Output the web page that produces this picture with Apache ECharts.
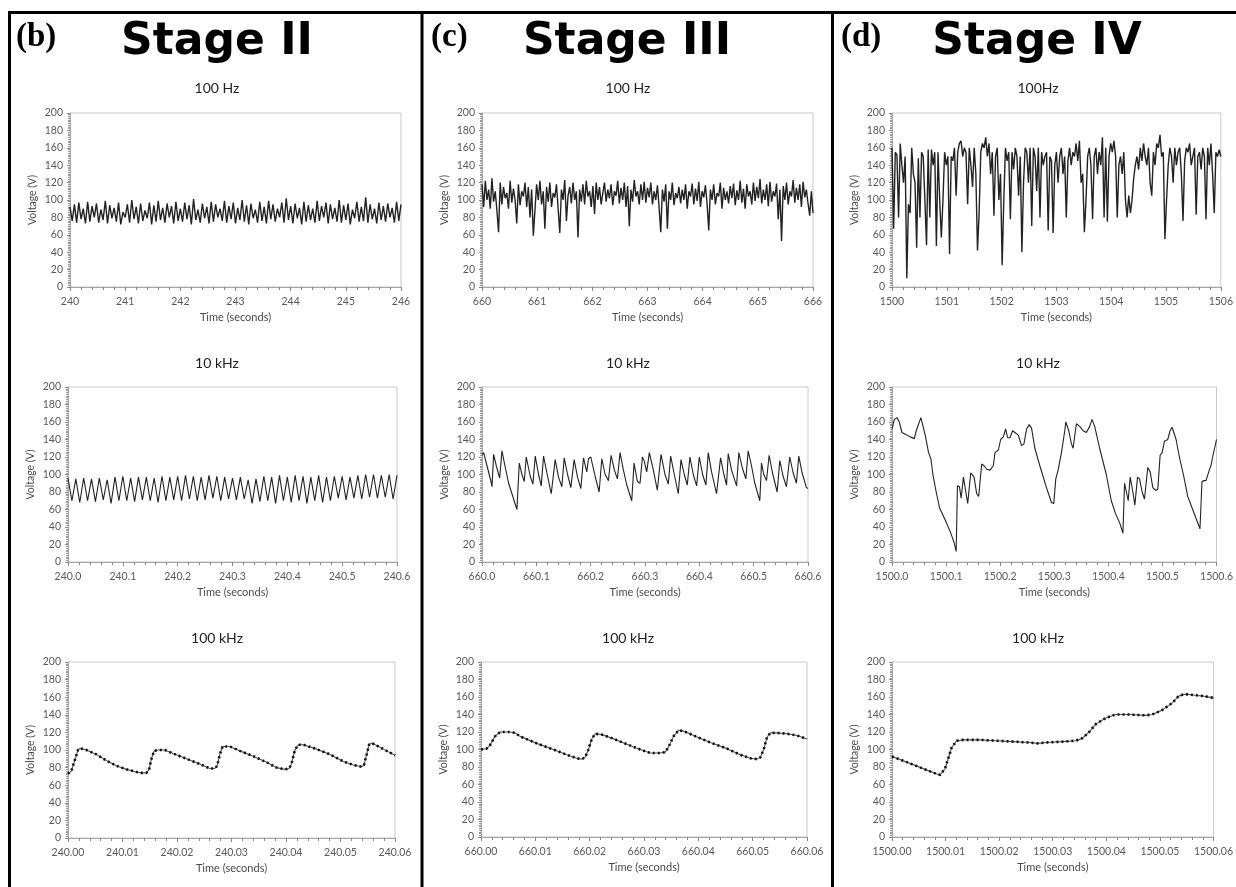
<!DOCTYPE html>
<html>
<head>
<meta charset="utf-8">
<script src="https://cdn.jsdelivr.net/npm/echarts@6/dist/echarts.min.js"></script>
<style>
  html, body { margin: 0; padding: 0; background: #fff; }
  #main { width: 1236px; height: 887px; }
</style>
</head>
<body>
<div id="main"></div>
<script>
// ---- data ----
// 100 Hz rows: evenly sampled voltages over the 6 s window
var b100Hz = [92,76,95,74,97,78,90,73,98,75,93,80,96,74,89,77,99,73,94,79,91,75,97,72,86,80,95,74,100,78,
  92,73,96,76,88,79,97,72,94,75,99,77,91,74,96,80,93,73,98,76,90,75,97,78,94,72,101,77,89,74,
  96,79,92,73,98,75,95,80,90,76,99,74,93,78,97,73,91,77,100,75,94,72,96,79,89,74,98,76,92,73,
  99,78,95,75,90,80,97,74,102,77,93,73,96,79,91,72,98,75,94,77,90,74,99,76,93,80,97,73,95,78,
  91,75,100,74,94,77,96,72,89,79,98,75,92,76,103,74,95,78,90,73,97,77,93,75,96,80,91,74,98,76,95];
var c100Hz = [118,92,122,100,112,90,125,98,110,88, 63,120,95,115,102,108,90,122,97,113,
  100,73,118,94,110,104,120,92,115,80, 112,59,59,118,100,122,95,110,67,115,
  98,120,92,108,103,118,90,62,112,100, 123,76,105,115,96,120,100,110,57,112,
  98,118,95,122,104,110,92,116,84,120, 100,115,95,108,120,98,112,102,118,94,
  110,105,122,96,114,100,120,92,116,70, 112,98,123,104,110,95,118,100,121,97,
  114,103,120,95,110,100,117,92,63,112, 98,118,67,110,100,120,94,108,102,115,
  96,112,100,118,90,110,104,119,95,113, 99,121,92,110,103,117,96,65,112,100,
  118,95,108,104,120,90,114,100,110,96, 116,102,119,94,111,100,122,97,113,90,
  118,104,110,95,120,99,115,102,124,96, 112,100,118,93,121,98,110,104,119,78,
  112,53,116,100,120,95,110,104,123,97, 114,100,118,92,121,103,112,96,82,110, 85];
var d100Hz = [160,67,155,152,80,165,140,120,150,10, 95,85,160,130,120,45,148,80,155,150,
  100,48,158,80,158,140,155,47,155,100, 57,100,155,140,150,38,150,145,160,105,
  155,165,168,150,160,155,95,160,140,115, 160,130,42,85,155,165,160,172,150,165,
  130,155,82,150,160,100,130,25,100,160, 145,155,78,155,135,160,150,105,150,40,
  120,160,155,120,160,70,160,150,110,160, 80,155,140,150,155,65,150,145,62,140,
  155,120,150,160,130,150,80,145,160,140, 155,150,165,145,168,120,130,63,100,150,
  160,140,78,150,160,130,155,140,172,80, 160,75,150,165,155,168,150,80,140,150,
  130,155,100,80,105,85,100,125,140,150, 135,160,145,165,150,140,160,120,105,155,
  140,165,160,175,150,155,55,100,140,160, 150,120,160,140,155,160,130,76,145,160,
  155,165,140,150,160,83,150,155,135,160, 150,78,160,140,165,130,85,155,150,158, 150];

// 10 kHz, Stage II: alternating peaks and troughs, evenly spaced over 0.6 s
var b10k = [96,70,95,68,96,70,95,69,96,71,94,67,97,70,98,70,96,69,97,71,97,70,96,68,98,70,97,71,98,70,
  99,72,98,70,97,71,99,73,98,70,97,72,96,71,97,72,94,67,95,69,98,70,97,67,99,70,97,68,99,70,
  98,67,97,70,99,68,97,70,98,73,98,71,97,73,99,72,100,74,100,73,99,74,100,72,99];

// 10 kHz, Stage III / IV: time offset (ms from window start) and voltage
var c10kMs = [0,3.1,9.2,16.5,18.4,21.4,26.3,32.5,36.7,42.9,49.0,55.1,64.3,68.6,73.5,77.8,81.4,88.8,93.7,98.0,
  104.1,109.0,113.3,119.4,127.4,134.7,140.8,147.0,151.3,157.4,163.5,169.6,175.8,181.9,186.8,192.9,196.0,200.2,
  208.2,215.6,220.5,226.6,232.7,237.6,243.7,249.2,254.1,260.3,266.4,275.6,279.8,286.0,290.9,295.2,298.8,303.1,
  308.0,315.4,322.7,329.5,336.8,342.9,347.2,353.3,361.3,366.2,372.3,377.8,382.7,388.9,395.0,399.9,406.0,412.1,
  416.4,422.5,431.7,439.1,445.2,450.1,453.2,459.3,468.5,472.7,478.9,485.6,489.9,496.0,502.1,511.3,514.4,518.7,
  523.6,528.5,534.6,543.2,548.1,554.2,560.3,566.4,572.6,578.7,583.0,589.1,597.1,600];
var c10kV = [122,125,110,92,86,123,110,96,127,108,90,78,60,113,100,92,120,98,89,121,
  100,87,121,102,78,117,97,86,119,100,85,117,97,84,119,103,118,120,
  98,80,118,100,93,122,105,95,125,105,88,70,113,92,90,120,115,103,
  125,105,82,123,100,89,121,102,78,117,100,88,120,100,87,120,100,88,
  125,103,78,119,100,88,124,105,87,125,108,95,127,110,90,70,113,100,
  93,122,102,80,116,98,86,120,102,90,121,102,85,84];
var d10kMs = [0,4.3,9.2,13.5,18.4,24.6,33.8,41.2,44.8,53.4,61.4,67.6,71.9,75.6,81.7,87.8,98.3,107.5,114.9,118.6,
  121.0,124.7,127.8,132.1,137.0,140.0,145.6,151.7,156.6,160.3,165.8,170.1,175.1,181.2,187.3,190.4,196.6,200.9,
  205.8,210.1,213.8,218.1,223.0,227.3,233.4,239.6,243.9,248.8,253.7,258.0,264.1,273.3,285.6,294.8,299.1,302.8,
  307.1,313.3,319.4,321.3,326.8,331.7,334.8,340.9,347.1,353.2,359.3,365.5,369.8,374.7,383.9,396.2,405.4,413.4,
  420.8,426.9,430.0,433.0,436.7,440.4,445.3,449.0,453.9,457.6,462.5,466.8,472.9,477.3,482.2,487.1,491.4,495.7,
  499.4,503.7,509.8,514.1,517.8,520.3,525.2,531.3,538.7,546.7,555.9,562.0,569.4,571.3,573.1,576.8,580.5,586.6,
  589.7,592.8,600];
var d10kV = [152,163,165,160,148,146,143,141,150,165,145,125,118,100,80,62,48,35,22,12,
  87,86,73,97,78,67,102,97,78,75,112,110,106,105,110,125,128,140,
  143,152,142,142,150,148,145,133,135,152,157,153,130,110,85,68,67,95,
  105,125,150,160,150,135,130,158,155,150,148,155,163,155,130,100,70,55,
  45,33,90,88,70,97,80,65,97,95,80,72,108,103,85,82,83,122,
  125,138,140,150,154,152,140,120,100,75,60,50,38,40,92,93,93,105,
  110,120,140];

// 100 kHz: time offset (ms from window start) and voltage
var b100kMs = [0,0.61,1.22,1.84,2.27,3.37,5.21,7.04,8.88,10.72,12.55,13.47,14.39,14.88,15.31,15.80,16.53,17.76,
  19.29,21.74,24.19,26.03,26.94,27.37,27.86,28.35,29.70,31.54,33.99,36.44,38.27,39.80,40.60,41.03,41.64,42.25,
  43.17,45.62,48.07,50.52,52.36,53.89,54.32,54.81,55.23,55.72,56.64,58.48,60];
var b100kV = [73,76,88,100,102,100,95,88,82,78,75,74,74,78,90,99,100,100,
  96,90,84,79,79,82,95,104,104,99,93,86,80,78,79,85,100,106,
  106,101,95,87,83,81,83,95,106,108,105,99,94];
var c100kMs = [0,1.04,1.66,2.58,3.50,5.34,6.27,7.19,10.26,13.33,15.79,17.63,18.55,19.16,19.78,20.39,21.01,22.24,
  24.08,26.84,29.30,31.14,32.99,33.91,34.52,35.44,36.36,37.29,39.13,42.20,45.27,47.73,49.57,50.80,51.41,52.03,
  52.64,53.26,54.48,56.33,58.17,60];
var c100kV = [100,101,105,115,120,120,119,115,107,100,94,90,89,91,100,112,118,117,
  113,106,100,96,96,97,103,115,122,121,116,108,101,94,90,89,91,100,
  114,119,119,118,116,112];
var d100kMs = [0,2.16,4.64,7.11,8.35,8.97,9.28,9.89,10.51,11.13,12.06,13.30,16.39,19.48,22.57,25.66,27.21,28.76,
  31.85,34.32,35.56,36.80,38.03,39.89,41.74,44.22,47.31,48.55,50.40,52.26,53.49,54.42,55.35,56.59,58.13,60];
var d100kV = [92,87,81,75,72,71,72,78,90,102,110,111,111,110,109,108,107,108,
  109,110,113,120,129,136,140,140,139,140,145,153,161,163,163,162,161,159];

// ---- helpers ----
function evenly(vals, t0, t1) {
  var n = vals.length - 1;
  return vals.map(function (v, i) { return [t0 + (t1 - t0) * i / n, v]; });
}
function byMs(ms, vals, t0) {
  return ms.map(function (m, i) { return [t0 + m / 1000, vals[i]]; });
}

// grid boxes: left, top, width, height; kind: 0 = 100 Hz, 1 = 10 kHz, 2 = 100 kHz
var panels = [
  {box: [70, 113, 331, 174], min: 240, max: 246, step: 1, dec: 0, data: evenly(b100Hz, 240, 246), kind: 0},
  {box: [482, 113, 331, 174], min: 660, max: 666, step: 1, dec: 0, data: evenly(c100Hz, 660, 666), kind: 0},
  {box: [892, 113, 330, 174], min: 1500, max: 1506, step: 1, dec: 0, data: evenly(d100Hz, 1500, 1506), kind: 0},
  {box: [68, 387, 329, 175], min: 240, max: 240.6, step: 0.1, dec: 1, data: evenly(b10k, 240, 240.6), kind: 1},
  {box: [482, 387, 326, 175], min: 660, max: 660.6, step: 0.1, dec: 1, data: byMs(c10kMs, c10kV, 660), kind: 1},
  {box: [892, 387, 325, 175], min: 1500, max: 1500.6, step: 0.1, dec: 1, data: byMs(d10kMs, d10kV, 1500), kind: 1},
  {box: [68, 662, 327, 176], min: 240, max: 240.06, step: 0.01, dec: 2, data: byMs(b100kMs, b100kV, 240), kind: 2},
  {box: [481, 662, 326, 175], min: 660, max: 660.06, step: 0.01, dec: 2, data: byMs(c100kMs, c100kV, 660), kind: 2},
  {box: [892, 662, 323, 175], min: 1500, max: 1500.06, step: 0.01, dec: 2, data: byMs(d100kMs, d100kV, 1500), kind: 2}
];

var axisGray = '#a6a6a6';
var labelGray = '#595959';
var grids = [], xAxes = [], yAxes = [], series = [];

panels.forEach(function (p, i) {
  grids.push({
    left: p.box[0], top: p.box[1], width: p.box[2], height: p.box[3],
    show: true, borderColor: '#c8c8c8', borderWidth: 1, backgroundColor: 'transparent'
  });
  xAxes.push({
    type: 'value', gridIndex: i, min: p.min, max: p.max, interval: p.step,
    name: 'Time (seconds)', nameLocation: 'middle', nameGap: 25,
    nameTextStyle: {fontFamily: 'Lato', fontSize: 11, color: '#4a4a4a'},
    axisLine: {show: true, lineStyle: {color: axisGray}},
    axisTick: {show: true, length: 4, lineStyle: {color: '#888'}},
    minorTick: {show: true, splitNumber: 5, length: 3, lineStyle: {color: '#888'}},
    splitLine: {show: false},
    axisLabel: {
      fontFamily: 'Lato', fontSize: 10.5, color: labelGray, margin: 9,
      formatter: (function (d) { return function (v) { return v.toFixed(d); }; })(p.dec)
    }
  });
  yAxes.push({
    type: 'value', gridIndex: i, min: 0, max: 200, interval: 20,
    name: 'Voltage (V)', nameLocation: 'middle', nameGap: 32,
    nameTextStyle: {fontFamily: 'Lato', fontSize: 10.5, color: '#4a4a4a'},
    axisLine: {show: true, lineStyle: {color: axisGray}},
    axisTick: {show: true, length: 3, lineStyle: {color: '#888'}},
    minorTick: {show: true, splitNumber: 10, length: 2, lineStyle: {color: '#999'}},
    splitLine: {show: false},
    axisLabel: {fontFamily: 'Lato', fontSize: 10.5, color: labelGray, margin: 7}
  });
  series.push({
    type: 'line', xAxisIndex: i, yAxisIndex: i, data: p.data,
    showSymbol: false, silent: true,
    lineStyle: {
      color: p.kind === 2 ? '#555' : '#222',
      width: p.kind === 0 ? 1.4 : 1.1
    }
  });
  if (p.kind === 2) {
    // thick dotted overlay standing in for the dense sample markers
    series.push({
      type: 'line', xAxisIndex: i, yAxisIndex: i, data: p.data,
      showSymbol: false, silent: true,
      lineStyle: {color: '#111', width: 2.6, type: [2, 3]}
    });
  }
});

// ---- panel frames and headings ----
var stages = [
  {tag: '(b)', name: 'Stage II', tagX: 16, nameX: 217},
  {tag: '(c)', name: 'Stage III', tagX: 431, nameX: 627},
  {tag: '(d)', name: 'Stage IV', tagX: 841, nameX: 1037}
];
var freqs = [
  ['100 Hz', '100 Hz', '100Hz'],
  ['10 kHz', '10 kHz', '10 kHz'],
  ['100 kHz', '100 kHz', '100 kHz']
];
var freqY = [88, 363, 638];
var freqX = [217, 628, 1038];

var graphics = [
  {type: 'line', shape: {x1: 8, y1: 12.5, x2: 1236, y2: 12.5}, style: {stroke: '#000', lineWidth: 3}},
  {type: 'line', shape: {x1: 9.5, y1: 11, x2: 9.5, y2: 887}, style: {stroke: '#000', lineWidth: 3}},
  {type: 'line', shape: {x1: 422, y1: 11, x2: 422, y2: 887}, style: {stroke: '#000', lineWidth: 3}},
  {type: 'line', shape: {x1: 832.5, y1: 11, x2: 832.5, y2: 887}, style: {stroke: '#000', lineWidth: 3}}
];
stages.forEach(function (s) {
  graphics.push({type: 'text', style: {x: s.tagX, y: 37, text: s.tag,
    font: 'bold 33px "Liberation Serif"', fill: '#000', align: 'left', verticalAlign: 'middle'}});
  graphics.push({type: 'text', style: {x: s.nameX, y: 43, text: s.name,
    font: 'bold 44px "DejaVu Sans"', fill: '#000', align: 'center', verticalAlign: 'middle'}});
});
freqs.forEach(function (row, r) {
  row.forEach(function (txt, c) {
    graphics.push({type: 'text', style: {x: freqX[c], y: freqY[r], text: txt,
      font: '14px Lato', fill: '#1f1f1f', align: 'center', verticalAlign: 'middle'}});
  });
});

var chart = echarts.init(document.getElementById('main'));
chart.setOption({
  backgroundColor: '#fff',
  animation: false,
  grid: grids,
  xAxis: xAxes,
  yAxis: yAxes,
  series: series,
  graphic: graphics
});
</script>
</body>
</html>
